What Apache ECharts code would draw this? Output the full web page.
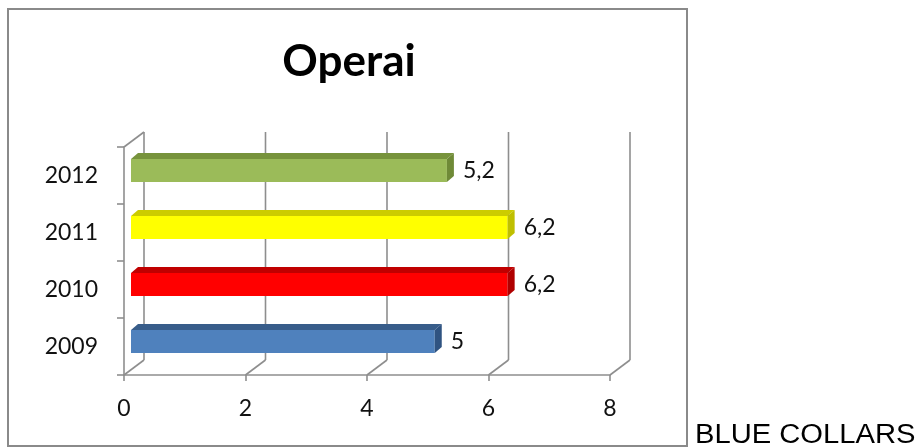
<!DOCTYPE html>
<html>
<head>
<meta charset="utf-8">
<title>Operai</title>
<script src="https://cdn.jsdelivr.net/npm/echarts@6/dist/echarts.min.js"></script>
<style>
    html, body { margin: 0; padding: 0; background: #ffffff; }
    #chart { width: 919px; height: 448px; }
</style>
</head>
<body>
<div id="chart"></div>
<script>
// data
const years = ['2009', '2010', '2011', '2012'];
const values = [5, 6.2, 6.2, 5.2];
const xTicks = [0, 2, 4, 6, 8];

// front / top / side colours per bar
const faceColors = [
    ['#4f81bd', '#385d8a', '#2f5381'],
    ['#ff0000', '#c00000', '#b00000'],
    ['#ffff00', '#cccc00', '#bfbf00'],
    ['#9bbb59', '#77933c', '#6f8a37']
];

const DEPTH = [20, -15];     // wall depth offset
const BAR_D = [7, -6];       // bar depth offset
const gridColor = '#8e8e8e';
const fontFam = 'Lato, "Open Sans", sans-serif';

const chart = echarts.init(document.getElementById('chart'));

function renderFrame(params, api) {
    const cs = params.coordSys;
    const v = api.value(0);
    const x = api.coord([v, 0])[0];
    const bottom = cs.y + cs.height;
    const top = cs.y;
    const style = { stroke: gridColor, lineWidth: 1.6 };
    const children = [
        { type: 'line', shape: { x1: x + DEPTH[0], y1: bottom + DEPTH[1], x2: x + DEPTH[0], y2: top + DEPTH[1] }, style: style },
        { type: 'line', shape: { x1: x, y1: bottom, x2: x + DEPTH[0], y2: bottom + DEPTH[1] }, style: style }
    ];
    if (v === 0) {
        children.push({ type: 'line', shape: { x1: x, y1: top, x2: x + DEPTH[0], y2: top + DEPTH[1] }, style: style });
    }
    return { type: 'group', children: children };
}

function renderBar(params, api) {
    const idx = api.value(1);
    const val = api.value(0);
    const c0 = api.coord([0, idx]);
    const c1 = api.coord([val, idx]);
    const cols = faceColors[idx];
    const h = 23;
    const x0 = c0[0] + 7;
    const x1 = c1[0] + 7;
    const top = c0[1] - 5 - h / 2;
    const dx = BAR_D[0], dy = BAR_D[1];
    return {
        type: 'group',
        children: [
            { type: 'rect', shape: { x: x0, y: top, width: x1 - x0, height: h }, style: { fill: cols[0] } },
            { type: 'polygon', shape: { points: [[x0, top], [x1, top], [x1 + dx, top + dy], [x0 + dx, top + dy]] }, style: { fill: cols[1] } },
            { type: 'polygon', shape: { points: [[x1, top], [x1 + dx, top + dy], [x1 + dx, top + dy + h], [x1, top + h]] }, style: { fill: cols[2] } },
            {
                type: 'text',
                style: {
                    x: x1 + dx + 9, y: top + h / 2,
                    text: String(val).replace('.', ','),
                    fill: '#111', font: '23px ' + fontFam,
                    align: 'left', verticalAlign: 'middle'
                }
            }
        ]
    };
}

const option = {
    animation: false,
    grid: { left: 124, right: 309, top: 147, bottom: 73 },
    xAxis: {
        type: 'value',
        min: 0, max: 8, interval: 2,
        axisLine: { show: true, lineStyle: { color: gridColor, width: 1.6 } },
        axisTick: { show: true, length: 6, lineStyle: { color: gridColor, width: 1.6 } },
        splitLine: { show: false },
        axisLabel: { color: '#111', fontSize: 23, fontFamily: fontFam, margin: 22 }
    },
    yAxis: {
        type: 'category',
        data: years,
        axisLine: { show: true, lineStyle: { color: gridColor, width: 1.6 } },
        axisTick: { show: true, length: 7, lineStyle: { color: gridColor, width: 1.6 } },
        axisLabel: { color: '#111', fontSize: 23, fontFamily: fontFam, margin: 26 }
    },
    graphic: [
        {
            type: 'rect',
            shape: { x: 8, y: 9, width: 679, height: 437 },
            style: { fill: 'none', stroke: '#8a8a8a', lineWidth: 2 },
            z: 0
        },
        {
            type: 'text',
            style: {
                x: 349, y: 62, text: 'Operai',
                font: 'bold 44px ' + fontFam, fill: '#000',
                align: 'center', verticalAlign: 'middle'
            }
        },
        {
            type: 'text',
            x: 695, y: 436,
            scaleX: 1.08,
            style: {
                x: 0, y: 0, text: 'BLUE COLLARS',
                font: '27px "Liberation Sans", Arial, sans-serif', fill: '#000',
                align: 'left', verticalAlign: 'middle'
            }
        }
    ],
    series: [
        {
            type: 'custom',
            clip: false,
            z: 1,
            silent: true,
            renderItem: renderFrame,
            data: xTicks.map(v => [v, 0])
        },
        {
            type: 'custom',
            clip: false,
            z: 2,
            renderItem: renderBar,
            data: values.map((v, i) => [v, i])
        }
    ]
};

chart.setOption(option);
</script>
</body>
</html>
